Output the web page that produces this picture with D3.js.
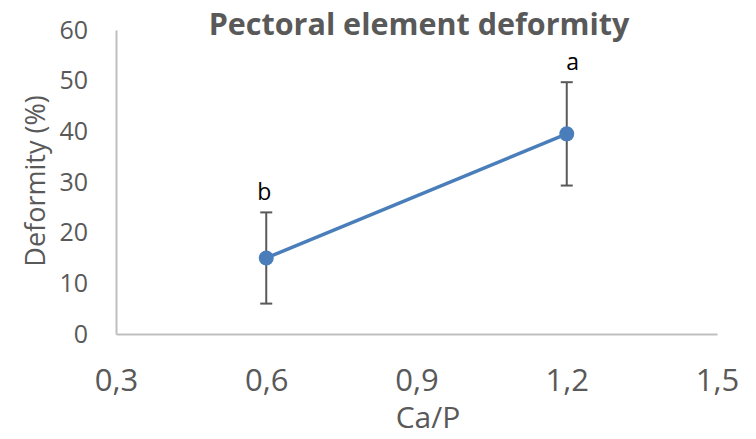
<!DOCTYPE html>
<html><head><meta charset="utf-8">
<script src="https://cdn.jsdelivr.net/npm/d3@7"></script>
<style>body{margin:0;background:#fff}svg{display:block}</style>
</head><body>
<svg id="chart" width="756" height="439"></svg>
<script>
const caP = [0.6, 1.2];
const deformity = [15, 39.5];
const errors = [9, 10.2];
const letters = ["b", "a"];
const xTicks = [0.3, 0.6, 0.9, 1.2, 1.5];
const yTicks = [0, 10, 20, 30, 40, 50, 60];

const W = 756, H = 439;
const m = {left:116, right:39, top:30, bottom:105};
const svg = d3.select("#chart");
const x = d3.scaleLinear().domain([0.3,1.5]).range([m.left, W-m.right]);
const y = d3.scaleLinear().domain([0,60]).range([H-m.bottom, m.top]);
const font = "'Open Sans', sans-serif";
const grey = "#595959";

// axes
const yAx = svg.append("g").attr("transform",`translate(${m.left},0)`)
  .call(d3.axisLeft(y).tickValues(yTicks).tickSize(0).tickPadding(28));
yAx.select(".domain").attr("stroke","#bfbfbf").attr("stroke-width",2);
yAx.selectAll("text").attr("font-family",font).attr("font-size",25).attr("fill",grey);

const xAx = svg.append("g").attr("transform",`translate(0,${H-m.bottom})`)
  .call(d3.axisBottom(x).tickValues(xTicks).tickSize(0).tickPadding(35)
    .tickFormat(d => d3.format(".1f")(d).replace(".", ",")));
xAx.select(".domain").attr("stroke","#bfbfbf").attr("stroke-width",2);
xAx.selectAll("text").attr("font-family",font).attr("font-size",31).attr("fill",grey);

// error bars
const eb = svg.append("g").attr("stroke",grey).attr("stroke-width",2);
caP.forEach((v,i)=>{
  const lo = y(deformity[i]-errors[i]), hi = y(deformity[i]+errors[i]), cx = x(v);
  eb.append("line").attr("x1",cx).attr("x2",cx).attr("y1",lo).attr("y2",hi);
  eb.append("line").attr("x1",cx-6).attr("x2",cx+6).attr("y1",lo).attr("y2",lo);
  eb.append("line").attr("x1",cx-6).attr("x2",cx+6).attr("y1",hi).attr("y2",hi);
});

// line
const pts = caP.map((v,i)=>[v,deformity[i]]);
svg.append("path").datum(pts)
  .attr("d", d3.line().x(d=>x(d[0])).y(d=>y(d[1])))
  .attr("fill","none").attr("stroke","#4a7ebb").attr("stroke-width",3.5);
svg.selectAll("circle.pt").data(pts).join("circle")
  .attr("cx",d=>x(d[0])).attr("cy",d=>y(d[1])).attr("r",7.5).attr("fill","#4a7ebb");

// letters
svg.selectAll("text.lt").data(caP).join("text")
  .attr("x",(d,i)=>x(d) + (i===1?6:-2))
  .attr("y",(d,i)=>y(deformity[i]+errors[i]) - 12)
  .attr("text-anchor","middle").attr("font-family",font).attr("font-size",23).attr("fill","#000")
  .text((d,i)=>letters[i]);

// title
svg.append("text").attr("x",419).attr("y",35).attr("text-anchor","middle")
  .attr("font-family",font).attr("font-weight","bold").attr("font-size",30.5).attr("fill",grey)
  .text("Pectoral element deformity");

// axis titles
svg.append("text").attr("x",428).attr("y",428).attr("text-anchor","middle")
  .attr("font-family",font).attr("font-size",30).attr("fill",grey).text("Ca/P");
svg.append("text").attr("transform","translate(45,181) rotate(-90)").attr("text-anchor","middle")
  .attr("font-family",font).attr("font-size",27).attr("fill",grey).text("Deformity (%)");
</script>
</body></html>
